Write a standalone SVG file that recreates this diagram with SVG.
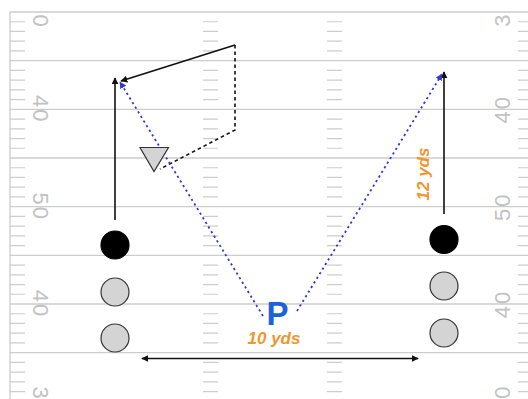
<svg xmlns="http://www.w3.org/2000/svg" xmlns:xlink="http://www.w3.org/1999/xlink" width="528" height="399" viewBox="0 0 528 399">
<style>
.yl{stroke:#cdcdcd;stroke-width:1.3;fill:none}
.tk{stroke:#cdcdcd;stroke-width:1.2;fill:none}
.num{font-family:"Liberation Sans",Arial,sans-serif;font-size:22px;fill:#c2c2c2;text-anchor:middle;letter-spacing:2px}
.route{stroke:#111;stroke-width:1.6;fill:none}
.dash{stroke:#111;stroke-width:1.6;fill:none;stroke-dasharray:3.5 3}
.pass{stroke:#3535d6;stroke-width:1.8;fill:none;stroke-dasharray:2.2 3.2}
.off{fill:#000;stroke:#000;stroke-width:1.2}
.line{fill:#d4d4d4;stroke:#333;stroke-width:1.2}
.lbl{font-family:"Liberation Sans",Arial,sans-serif;font-weight:bold;font-style:italic;font-size:17px;fill:#f0962e;text-anchor:middle}
</style>
<defs>
<marker id="ah" viewBox="0 0 10 10" refX="9" refY="5" markerWidth="7" markerHeight="7" markerUnits="userSpaceOnUse" orient="auto-start-reverse"><path d="M0 0L10 5L0 10z" fill="#111"/></marker>
<marker id="ahb" viewBox="0 0 10 10" refX="9" refY="5" markerWidth="7" markerHeight="7" markerUnits="userSpaceOnUse" orient="auto"><path d="M0 0L10 5L0 10z" fill="#3535d6"/></marker>
<path id="ticks" d="M0 21.73h15M0 31.47h15M0 41.2h15M0 50.93h15M0 70.4h15M0 80.13h15M0 89.87h15M0 99.6h15M0 119.07h15M0 128.8h15M0 138.53h15M0 148.27h15M0 167.73h15M0 177.47h15M0 187.2h15M0 196.93h15M0 216.4h15M0 226.13h15M0 235.87h15M0 245.6h15M0 265.07h15M0 274.8h15M0 284.53h15M0 294.27h15M0 313.73h15M0 323.47h15M0 333.2h15M0 342.93h15M0 362.4h15M0 372.13h15M0 381.87h15M0 391.6h15"/>
</defs>
<rect width="528" height="399" fill="#fff"/>
<g id="field">
<path class="yl" d="M10 12H528M10 60.67H528M10 109.33H528M10 158H528M10 206.67H528M10 255.33H528M10 304H528M10 352.67H528M10 12V399"/>
<use xlink:href="#ticks" class="tk" x="10"/>
<use xlink:href="#ticks" class="tk" x="203"/>
<use xlink:href="#ticks" class="tk" x="327"/>
<use xlink:href="#ticks" class="tk" x="518"/>
<g class="num">
<text transform="translate(33 20.5) rotate(90)" letter-spacing="0">0</text>
<text transform="translate(33 109.33) rotate(90)">40</text>
<text transform="translate(33 206.67) rotate(90)">50</text>
<text transform="translate(33 304) rotate(90)">40</text>
<text transform="translate(33 392.5) rotate(90)" letter-spacing="0">3</text>
<text transform="translate(510 20.5) rotate(-90)" letter-spacing="0">3</text>
<text transform="translate(510 109.33) rotate(-90)">40</text>
<text transform="translate(510 206.67) rotate(-90)">50</text>
<text transform="translate(510 304) rotate(-90)">40</text>
<text transform="translate(510 392.5) rotate(-90)" letter-spacing="0">0</text>
</g>
</g>
<g id="connectors">
<path class="route" d="M115 220V78" marker-end="url(#ah)"/>
<path class="route" d="M444 214V72" marker-end="url(#ah)"/>
<path class="route" d="M235 45L121 81" marker-end="url(#ah)"/>
<path class="dash" d="M235 45V130L160 169"/>
<path class="pass" d="M263 316L120 82" marker-end="url(#ahb)"/>
<path class="pass" d="M297 311L442 74" marker-end="url(#ahb)"/>
<path class="route" d="M142 358.5H418" marker-start="url(#ah)" marker-end="url(#ah)"/>
</g>
<g id="defender"><path class="line" d="M140 147.5H168.5L154 171.5Z"/></g>
<g id="wr-left"><circle class="off" cx="115" cy="245" r="14"/></g>
<g id="ol-left-1"><circle class="line" cx="115" cy="292" r="14"/></g>
<g id="ol-left-2"><circle class="line" cx="115" cy="338" r="14"/></g>
<g id="wr-right"><circle class="off" cx="444" cy="239.5" r="14"/></g>
<g id="ol-right-1"><circle class="line" cx="444" cy="286" r="14"/></g>
<g id="ol-right-2"><circle class="line" cx="444" cy="333" r="14"/></g>
<g id="passer"><text x="277.5" y="325" font-family="Liberation Sans, Arial, sans-serif" font-weight="bold" font-size="33" fill="#1a63d8" text-anchor="middle">P</text></g>
<g id="labels">
<text class="lbl" x="274" y="343.5">10 yds</text>
<text class="lbl" transform="translate(429 174) rotate(-90)">12 yds</text>
</g>
</svg>
